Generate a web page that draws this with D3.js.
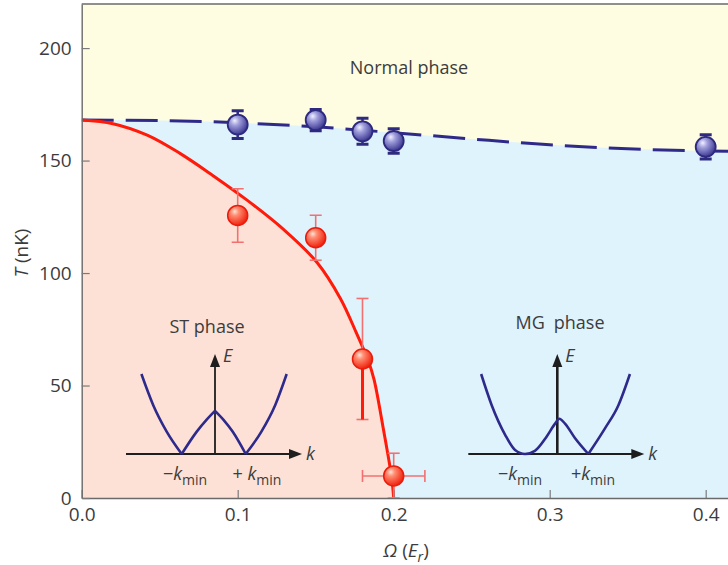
<!DOCTYPE html>
<html>
<head>
<meta charset="utf-8">
<script src="https://cdn.jsdelivr.net/npm/d3@7"></script>
<style>
  body { margin: 0; background: #fff; }
  svg text { font-family: "Open Sans", sans-serif; fill: #3c3c3c; }
</style>
</head>
<body>
<div id="chart"></div>
<script>
// normal-phase boundary (dashed)
const normalOmega = [0, 0.05, 0.1, 0.15, 0.2, 0.25, 0.3, 0.35, 0.4, 0.45];
const normalT = [168, 167.8, 166.8, 165, 162.4, 159.6, 157, 155.2, 154.3, 154];

// ST / MG boundary (solid red)
const stOmega = [0, 0.02, 0.042, 0.063, 0.084, 0.106, 0.129, 0.151, 0.166, 0.176, 0.184, 0.1875, 0.1933, 0.1987, 0.2];
const stT = [168, 166.4, 161.3, 153.2, 143.4, 132.4, 119.6, 104.6, 88.5, 73.5, 60.5, 52.4, 31, 9, 0];

// measured points
const blueOmega = [0.1, 0.15, 0.18, 0.2, 0.4];
const blueT = [166, 168, 163, 158.7, 156.1];
const blueErr = [6.2, 4.7, 5.8, 5.4, 5.4];

const redOmega = [0.1, 0.15, 0.18, 0.2];
const redT = [125.6, 115.7, 61.8, 9.8];
const redErr = [11.9, 10, 26.9, 10.1];
const redOmegaErr = [0, 0, 0, 0.02];

const xTicks = [0, 0.1, 0.2, 0.3, 0.4];
const yTicks = [0, 50, 100, 150, 200];

// inset dispersions, k in units of k_min, E normalised
const stDispK = [-2.3, -1.93, -1.51, -1.04, -0.57, -0.26, 0, 0.26, 0.55, 0.96, 1.45, 1.88, 2.24];
const stDispE = [1.0, 0.61, 0.28, 0, 0.28, 0.43, 0.54, 0.43, 0.28, 0, 0.28, 0.61, 1.0];
const stKinks = [3, 6, 9];

const mgDispK = [-2.38, -2.05, -1.63, -1.32, -1.01, -0.70, -0.33, -0.07, 0.06, 0.24, 0.55, 0.97, 1.49, 1.91, 2.27];
const mgDispE = [1.0, 0.61, 0.24, 0.05, 0, 0.04, 0.22, 0.38, 0.44, 0.38, 0.20, 0, 0.32, 0.61, 1.0];
const mgKinks = [11];

const width = 728, height = 565;
const plotLeft = 81.7, plotTop = 4, plotBottom = 498;

const svg = d3.select("#chart").append("svg")
    .attr("width", width)
    .attr("height", height);

const x = d3.scaleLinear().domain([0, 0.4143]).range([plotLeft, width]);
const y = d3.scaleLinear().domain([0, 219.6]).range([plotBottom, plotTop]);

const defs = svg.append("defs");
defs.append("clipPath").attr("id", "plotclip")
  .append("rect").attr("x", plotLeft).attr("y", plotTop).attr("width", width - plotLeft + 60).attr("height", plotBottom - plotTop);

function ballGradient(id, stops) {
    const g = defs.append("radialGradient").attr("id", id)
        .attr("cx", "38%").attr("cy", "35%").attr("r", "65%").attr("fx", "35%").attr("fy", "30%");
    stops.forEach(s => g.append("stop").attr("offset", s[0]).attr("stop-color", s[1]));
}
ballGradient("redball", [[0, "#ffe2d8"], [0.3, "#ff8e72"], [1, "#f0230f"]]);
ballGradient("blueball", [[0, "#f0f0ff"], [0.35, "#a09edb"], [1, "#3e3a94"]]);

const plot = svg.append("g").attr("clip-path", "url(#plotclip)");

// phase regions
plot.append("rect").attr("x", plotLeft).attr("y", plotTop).attr("width", width - plotLeft + 60).attr("height", plotBottom - plotTop)
    .attr("fill", "#fefde1");

const normalPts = normalOmega.map((o, i) => [o, normalT[i]]);
const stPts = stOmega.map((o, i) => [o, stT[i]]);
const smooth = d3.curveCatmullRom.alpha(0.5);

plot.append("path")
    .attr("d", d3.area().x(d => x(d[0])).y0(y(0)).y1(d => y(d[1])).curve(d3.curveMonotoneX)(normalPts))
    .attr("fill", "#dff3fd");

plot.append("path")
    .attr("d", d3.line().x(d => x(d[0])).y(d => y(d[1])).curve(smooth)(stPts) + `L${x(0)},${y(0)}Z`)
    .attr("fill", "#fde1d6");

// boundaries
plot.append("path")
    .attr("d", d3.line().x(d => x(d[0])).y(d => y(d[1])).curve(d3.curveMonotoneX)(normalPts))
    .attr("fill", "none")
    .attr("stroke", "#2f2a8a")
    .attr("stroke-width", 3)
    .attr("stroke-dasharray", "32,12");

plot.append("path")
    .attr("d", d3.line().x(d => x(d[0])).y(d => y(d[1])).curve(smooth)(stPts))
    .attr("fill", "none")
    .attr("stroke", "#ff1a0a")
    .attr("stroke-width", 3);

// axes
const xAxis = d3.axisBottom(x).tickValues(xTicks).tickFormat(d3.format(".1f"))
    .tickSizeInner(-8).tickSizeOuter(0).tickPadding(10);
const yAxis = d3.axisLeft(y).tickValues(yTicks)
    .tickSizeInner(-8).tickSizeOuter(0).tickPadding(10);

const gx = svg.append("g").attr("transform", `translate(0,${plotBottom})`).call(xAxis);
const gy = svg.append("g").attr("transform", `translate(${plotLeft},0)`).call(yAxis);
[gx, gy].forEach(g => {
    g.attr("font-size", 19);
    g.select(".domain").attr("stroke", "#6a6a6a").attr("stroke-width", 1.4);
    g.selectAll(".tick line").attr("stroke", "#7a7a7a").attr("stroke-width", 1.2);
});
svg.append("line").attr("x1", plotLeft).attr("x2", width).attr("y1", plotTop).attr("y2", plotTop)
    .attr("stroke", "#6a6a6a").attr("stroke-width", 1.4);

// axis titles
const xt = svg.append("text").attr("x", 406).attr("y", 557).attr("text-anchor", "middle").attr("font-size", 19);
xt.append("tspan").attr("font-style", "italic").text("Ω");
xt.append("tspan").text(" (");
xt.append("tspan").attr("font-style", "italic").text("E");
xt.append("tspan").attr("font-style", "italic").attr("font-size", 14).attr("dy", 5).text("r");
xt.append("tspan").attr("dy", -5).text(")");

const yt = svg.append("text").attr("transform", "translate(28,253) rotate(-90)")
    .attr("text-anchor", "middle").attr("font-size", 19);
yt.append("tspan").attr("font-style", "italic").text("T");
yt.append("tspan").text(" (nK)");

// phase labels
svg.append("text").attr("x", 409).attr("y", 74).attr("text-anchor", "middle").attr("font-size", 18).text("Normal phase");
svg.append("text").attr("x", 207).attr("y", 333).attr("text-anchor", "middle").attr("font-size", 18).text("ST phase");
svg.append("text").attr("x", 560).attr("y", 329).attr("text-anchor", "middle").attr("font-size", 18).text("MG\u2002phase");

// insets
function drawInset(ox, oy, ks, es, kinks, minusLab, plusLab, vw) {
    const g = svg.append("g");
    const kx = d3.scaleLinear().domain([-1, 1]).range([ox - 32, ox + 32]);
    const ey = d3.scaleLinear().domain([0, 1]).range([oy, oy - 80]);
    const ink = "#1e1e1e";

    g.append("line").attr("x1", ox - 89).attr("x2", ox + 78).attr("y1", oy).attr("y2", oy)
        .attr("stroke", ink).attr("stroke-width", 2);
    g.append("path").attr("d", `M${ox + 87},${oy} L${ox + 74},${oy - 5} L${ox + 74},${oy + 5} Z`).attr("fill", ink);
    g.append("line").attr("x1", ox).attr("x2", ox).attr("y1", oy).attr("y2", oy - 90)
        .attr("stroke", ink).attr("stroke-width", vw);
    g.append("path").attr("d", `M${ox},${oy - 100} L${ox - 5},${oy - 87} L${ox + 5},${oy - 87} Z`).attr("fill", ink);

    const cuts = [0, ...kinks, ks.length - 1];
    const line = d3.line().x(d => kx(d[0])).y(d => ey(d[1])).curve(d3.curveMonotoneX);
    for (let s = 0; s < cuts.length - 1; s++) {
        const seg = d3.range(cuts[s], cuts[s + 1] + 1).map(i => [ks[i], es[i]]);
        g.append("path").attr("d", line(seg)).attr("fill", "none")
            .attr("stroke", "#2e2a8c").attr("stroke-width", 2.6).attr("stroke-linejoin", "round");
    }

    g.append("text").attr("x", ox + 8).attr("y", oy - 92).attr("font-size", 18).attr("font-style", "italic").text("E");
    g.append("text").attr("x", ox + 91).attr("y", oy + 6).attr("font-size", 18).attr("font-style", "italic").text("k");

    [[minusLab[0], minusLab[1]], [plusLab[0], plusLab[1]]].forEach(([cx, lab]) => {
        const t = g.append("text").attr("x", cx).attr("y", oy + 26).attr("text-anchor", "middle").attr("font-size", 18);
        t.append("tspan").text(lab);
        t.append("tspan").attr("font-style", "italic").text("k");
        t.append("tspan").attr("font-size", 14).attr("dy", 5).text("min");
    });
}
drawInset(215, 454, stDispK, stDispE, stKinks, [185, "\u2212"], [257, "+ "], 1.8);
drawInset(557.3, 454, mgDispK, mgDispE, mgKinks, [520, "\u2212"], [593, "+"], 2.6);

// error bars
const marks = svg.append("g").attr("clip-path", "url(#plotclip)");
const cap = 6;
redOmega.forEach((o, i) => {
    const cx = x(o), cy = y(redT[i]);
    const y1 = y(redT[i] + redErr[i]), y0 = y(Math.max(0, redT[i] - redErr[i]));
    const col = "#f27070";
    marks.append("line").attr("x1", cx).attr("x2", cx).attr("y1", y1).attr("y2", y0)
        .attr("stroke", col).attr("stroke-width", 1.6);
    marks.append("line").attr("x1", cx - cap).attr("x2", cx + cap).attr("y1", y1).attr("y2", y1)
        .attr("stroke", col).attr("stroke-width", 1.6);
    marks.append("line").attr("x1", cx - cap).attr("x2", cx + cap).attr("y1", y0).attr("y2", y0)
        .attr("stroke", col).attr("stroke-width", 1.6);
    // the 0.18 point has a heavy lower bar in the original
    if (i === 2) {
        marks.append("line").attr("x1", cx).attr("x2", cx).attr("y1", cy).attr("y2", y0)
            .attr("stroke", "#ff1a0a").attr("stroke-width", 3);
    }
    if (redOmegaErr[i] > 0) {
        const xa = x(o - redOmegaErr[i]), xb = x(o + redOmegaErr[i]);
        marks.append("line").attr("x1", xa).attr("x2", xb).attr("y1", cy).attr("y2", cy)
            .attr("stroke", col).attr("stroke-width", 1.6);
        [xa, xb].forEach(xx => marks.append("line").attr("x1", xx).attr("x2", xx)
            .attr("y1", cy - cap).attr("y2", cy + cap).attr("stroke", col).attr("stroke-width", 1.6));
    }
});
blueOmega.forEach((o, i) => {
    const cx = x(o);
    const y1 = y(blueT[i] + blueErr[i]), y0 = y(blueT[i] - blueErr[i]);
    const col = "#2e2a80";
    marks.append("line").attr("x1", cx).attr("x2", cx).attr("y1", y1).attr("y2", y0)
        .attr("stroke", col).attr("stroke-width", 2.5);
    [y1, y0].forEach(yy => marks.append("line").attr("x1", cx - cap).attr("x2", cx + cap)
        .attr("y1", yy).attr("y2", yy).attr("stroke", col).attr("stroke-width", 3));
});

// markers
marks.selectAll("circle.red").data(redOmega).enter().append("circle")
    .attr("class", "red")
    .attr("cx", d => x(d))
    .attr("cy", (d, i) => y(redT[i]))
    .attr("r", 10)
    .attr("fill", "url(#redball)")
    .attr("stroke", "#ea1c0c").attr("stroke-width", 1.5);

marks.selectAll("circle.blue").data(blueOmega).enter().append("circle")
    .attr("class", "blue")
    .attr("cx", d => x(d))
    .attr("cy", (d, i) => y(blueT[i]))
    .attr("r", 10)
    .attr("fill", "url(#blueball)")
    .attr("stroke", "#2e2a80").attr("stroke-width", 1.8);
</script>
</body>
</html>
